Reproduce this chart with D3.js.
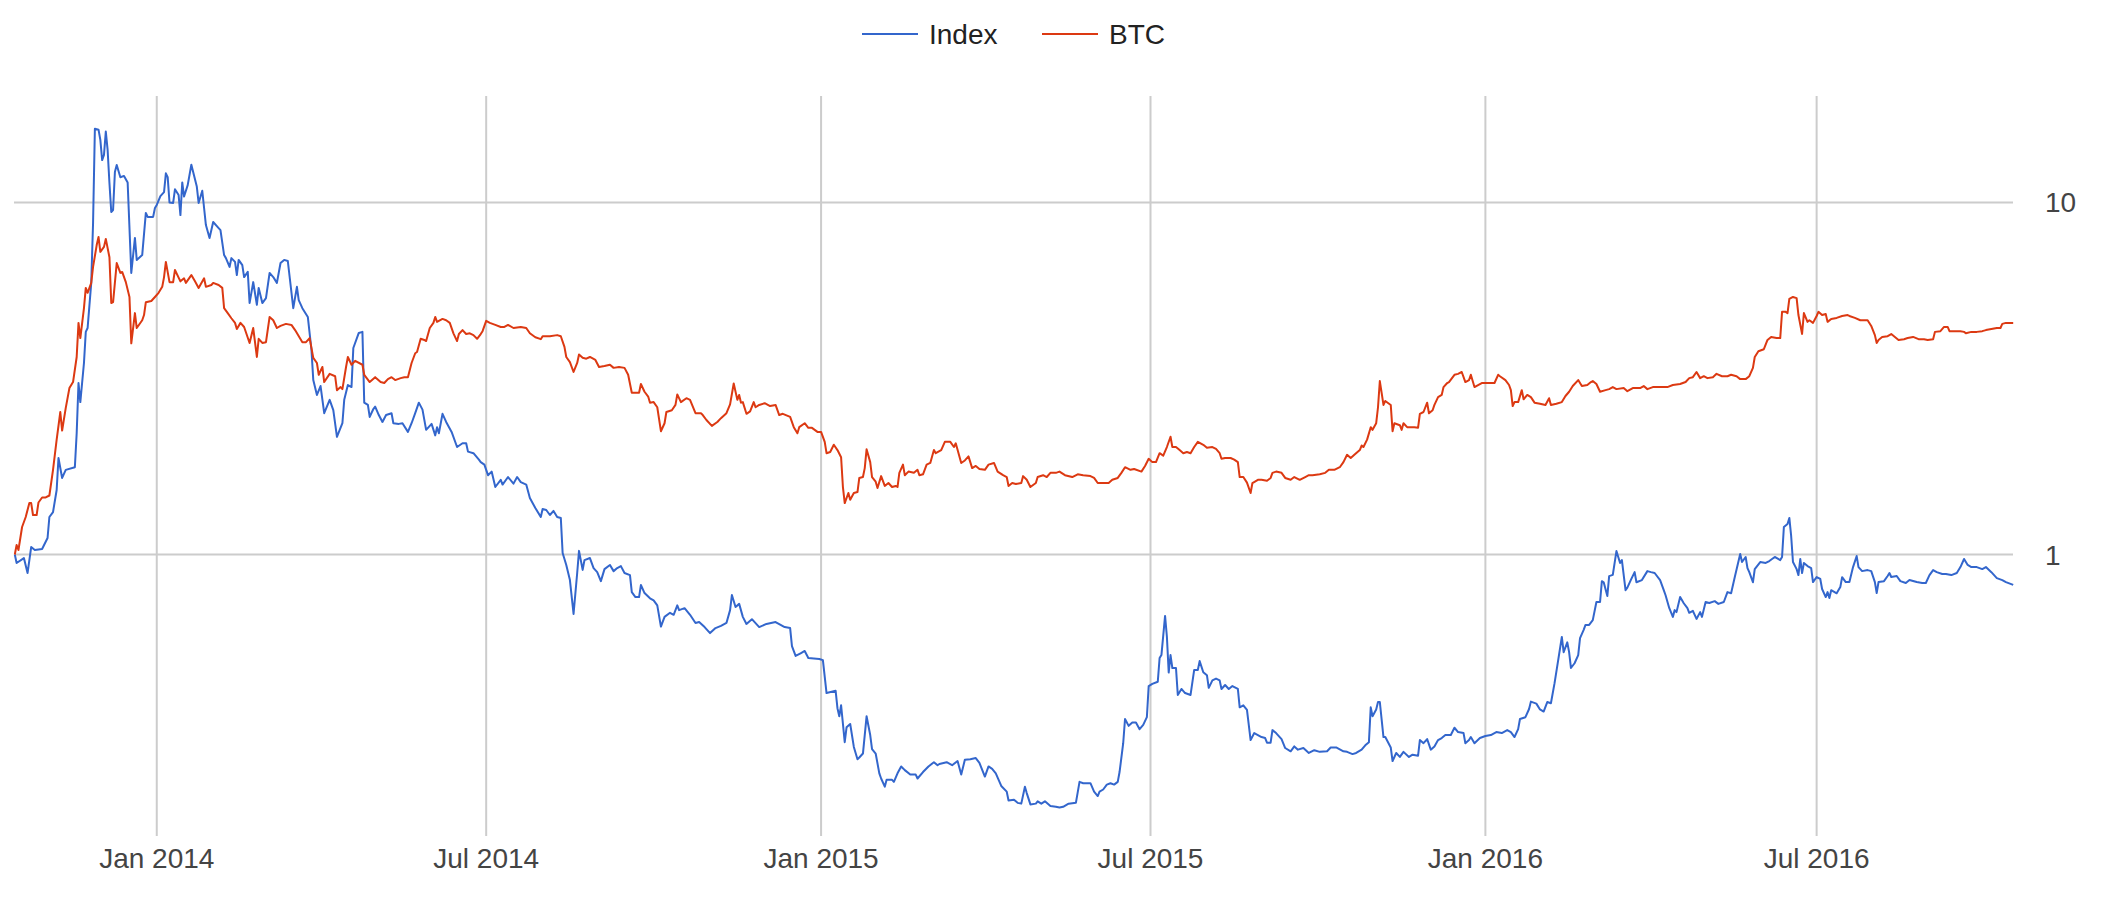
<!DOCTYPE html>
<html>
<head>
<meta charset="utf-8">
<script src="https://cdn.jsdelivr.net/npm/d3@7"></script>
<style>
  body { margin: 0; background: #fff; }
  svg { display: block; font-family: "Liberation Sans", Arial, sans-serif; }
</style>
</head>
<body>
<div id="chart"></div>
<script>
// days are counted from 1 Jan 2014, values are relative to the start (log scale)
const seriesNames = ["Index", "BTC"];
const seriesColors = ["#3366cc", "#dc3912"];

const indexSeries = [[-78,1.00],[-77,0.946],[-73,0.977],[-71,0.886],[-69,1.05],[-67,1.03],[-63,1.037],[-60,1.114],[-59,1.278],[-57,1.32],[-55,1.525],[-54,1.88],[-52,1.65],[-50,1.739],[-45,1.77],[-44,2.21],[-43,3.07],[-42,2.71],[-40,3.5],[-39,4.29],[-38,4.4],[-36,5.91],[-35,8.75],[-34,16.2],[-32,16.1],[-31,15.06],[-30,13.2],[-29,13.65],[-28,15.9],[-27,14.1],[-26,11.36],[-25,9.4],[-24,9.52],[-23,12.2],[-22,12.78],[-20,11.8],[-18,11.9],[-16,11.4],[-14,6.31],[-12,7.93],[-11,6.87],[-8,7.09],[-6,9.34],[-5,9.1],[-2,9.1],[-1,9.65],[0,9.84],[2,10.43],[4,10.7],[5,12.1],[6,11.8],[7,10.0],[9,9.97],[10,10.9],[12,10.5],[13,9.21],[14,11.4],[15,10.4],[17,11.2],[19,12.8],[22,11.1],[23,9.97],[25,10.8],[27,8.63],[29,7.93],[31,8.8],[34,8.46],[35,8.35],[37,7.09],[38,6.95],[40,6.56],[41,6.95],[43,6.78],[44,6.22],[45,6.87],[47,6.64],[48,6.14],[50,6.35],[51,5.18],[53,5.94],[55,5.12],[56,5.72],[58,5.18],[60,5.35],[62,6.31],[64,6.14],[66,5.91],[68,6.73],[70,6.87],[72,6.82],[75,5.01],[77,5.76],[78,5.28],[80,5.01],[83,4.73],[85,3.81],[86,3.13],[88,2.84],[90,3.01],[92,2.52],[95,2.75],[97,2.57],[99,2.16],[102,2.36],[103,2.75],[105,3.03],[107,2.99],[108,3.86],[111,4.26],[113,4.29],[114,2.7],[116,2.66],[117,2.46],[119,2.59],[120,2.63],[122,2.49],[124,2.38],[126,2.49],[129,2.52],[130,2.36],[133,2.35],[135,2.36],[138,2.23],[140,2.36],[142,2.52],[144,2.7],[146,2.58],[148,2.26],[151,2.35],[153,2.18],[154,2.3],[155,2.21],[157,2.51],[159,2.38],[162,2.23],[165,2.02],[168,2.07],[170,2.07],[171,1.96],[174,1.94],[177,1.86],[178,1.83],[180,1.8],[182,1.68],[184,1.72],[186,1.555],[189,1.63],[190,1.58],[193,1.66],[196,1.59],[198,1.66],[200,1.605],[203,1.58],[205,1.447],[208,1.356],[211,1.278],[212,1.347],[214,1.338],[216,1.295],[218,1.33],[220,1.278],[222,1.27],[223,1.01],[225,0.934],[227,0.846],[229,0.678],[231,0.886],[232,1.024],[234,0.904],[235,0.964],[238,0.977],[240,0.915],[242,0.891],[244,0.84],[246,0.909],[249,0.934],[251,0.897],[253,0.915],[255,0.927],[257,0.886],[260,0.874],[261,0.782],[263,0.757],[265,0.757],[266,0.819],[268,0.777],[271,0.751],[273,0.741],[275,0.717],[277,0.624],[279,0.665],[282,0.683],[284,0.674],[286,0.717],[287,0.695],[290,0.704],[293,0.674],[296,0.639],[298,0.643],[301,0.622],[304,0.598],[307,0.618],[310,0.627],[313,0.639],[315,0.695],[316,0.767],[318,0.709],[320,0.724],[322,0.665],[324,0.635],[327,0.655],[331,0.622],[335,0.635],[340,0.643],[345,0.622],[348,0.618],[349,0.549],[351,0.515],[354,0.525],[356,0.532],[358,0.508],[364,0.505],[366,0.501],[368,0.404],[373,0.41],[374,0.366],[375,0.347],[376,0.373],[378,0.293],[379,0.323],[381,0.33],[383,0.284],[385,0.262],[386,0.265],[388,0.272],[390,0.347],[392,0.307],[393,0.28],[395,0.272],[397,0.239],[398,0.231],[400,0.219],[401,0.229],[404,0.229],[405,0.226],[407,0.239],[409,0.25],[411,0.244],[414,0.237],[417,0.237],[418,0.231],[421,0.241],[424,0.25],[427,0.257],[429,0.252],[430,0.254],[434,0.257],[437,0.252],[440,0.259],[442,0.237],[444,0.261],[447,0.262],[450,0.264],[452,0.256],[455,0.234],[457,0.25],[459,0.246],[461,0.239],[464,0.22],[467,0.212],[468,0.2],[471,0.201],[473,0.197],[475,0.196],[477,0.219],[478,0.21],[480,0.195],[483,0.196],[484,0.199],[486,0.196],[488,0.199],[491,0.193],[494,0.192],[496,0.191],[498,0.192],[501,0.196],[505,0.197],[507,0.226],[509,0.224],[513,0.224],[515,0.212],[517,0.206],[518,0.212],[520,0.215],[522,0.222],[524,0.224],[526,0.222],[528,0.226],[529,0.241],[531,0.291],[532,0.341],[534,0.326],[536,0.333],[538,0.333],[540,0.319],[542,0.328],[544,0.345],[545,0.423],[547,0.429],[550,0.435],[551,0.508],[552,0.518],[554,0.669],[555,0.585],[556,0.462],[557,0.518],[558,0.476],[560,0.476],[561,0.399],[563,0.415],[565,0.404],[568,0.399],[570,0.47],[572,0.47],[573,0.498],[575,0.463],[577,0.454],[578,0.418],[580,0.439],[582,0.444],[584,0.439],[585,0.415],[587,0.426],[589,0.415],[591,0.423],[594,0.415],[595,0.368],[597,0.373],[599,0.362],[601,0.297],[603,0.311],[605,0.307],[607,0.303],[609,0.301],[610,0.292],[612,0.292],[613,0.317],[615,0.311],[618,0.299],[620,0.282],[623,0.276],[625,0.285],[627,0.279],[630,0.282],[633,0.273],[636,0.278],[639,0.275],[643,0.276],[645,0.283],[648,0.283],[652,0.276],[654,0.275],[657,0.271],[659,0.273],[662,0.279],[664,0.287],[666,0.293],[667,0.368],[668,0.347],[670,0.363],[671,0.381],[672,0.381],[674,0.303],[675,0.303],[678,0.283],[679,0.259],[681,0.273],[683,0.266],[685,0.275],[688,0.266],[690,0.27],[693,0.268],[694,0.297],[696,0.291],[698,0.299],[700,0.279],[702,0.285],[704,0.297],[706,0.301],[708,0.307],[711,0.307],[713,0.322],[715,0.313],[718,0.311],[719,0.291],[721,0.297],[722,0.303],[724,0.291],[727,0.301],[730,0.305],[733,0.307],[736,0.313],[739,0.311],[742,0.317],[744,0.313],[746,0.303],[748,0.319],[749,0.341],[752,0.345],[754,0.364],[755,0.382],[758,0.377],[760,0.363],[762,0.358],[764,0.381],[766,0.378],[768,0.431],[770,0.501],[772,0.583],[773,0.528],[775,0.563],[776,0.528],[777,0.476],[779,0.491],[781,0.518],[782,0.579],[784,0.611],[785,0.631],[787,0.631],[789,0.651],[791,0.733],[793,0.733],[794,0.84],[795,0.834],[797,0.762],[798,0.868],[800,0.875],[802,1.023],[803,0.984],[804,0.946],[805,0.964],[807,0.792],[808,0.805],[810,0.848],[812,0.891],[813,0.834],[816,0.846],[819,0.897],[821,0.891],[823,0.886],[826,0.846],[828,0.792],[829,0.766],[831,0.705],[833,0.665],[834,0.695],[835,0.686],[837,0.757],[839,0.727],[841,0.704],[842,0.683],[844,0.692],[846,0.656],[848,0.686],[849,0.665],[851,0.733],[853,0.728],[856,0.737],[858,0.724],[861,0.733],[863,0.782],[865,0.776],[867,0.862],[870,1.003],[871,0.952],[873,0.984],[874,0.915],[875,0.891],[877,0.834],[878,0.909],[881,0.952],[884,0.946],[886,0.958],[889,0.984],[892,0.964],[893,0.984],[894,1.197],[896,1.221],[897,1.27],[898,1.129],[899,0.952],[901,0.909],[902,0.874],[903,0.971],[904,0.886],[905,0.946],[907,0.927],[909,0.915],[910,0.835],[912,0.863],[914,0.852],[915,0.798],[917,0.757],[918,0.782],[919,0.752],[920,0.792],[923,0.776],[925,0.808],[926,0.862],[928,0.835],[930,0.835],[932,0.921],[934,0.99],[935,0.921],[937,0.897],[940,0.903],[942,0.897],[944,0.835],[945,0.777],[946,0.835],[949,0.84],[951,0.869],[952,0.886],[953,0.863],[956,0.869],[958,0.84],[961,0.83],[963,0.846],[967,0.835],[970,0.83],[972,0.83],[974,0.874],[976,0.903],[978,0.891],[981,0.88],[983,0.88],[986,0.874],[989,0.886],[991,0.921],[993,0.971],[995,0.934],[997,0.921],[1000,0.921],[1003,0.909],[1005,0.921],[1008,0.891],[1011,0.857],[1014,0.846],[1016,0.835],[1020,0.82]];

const btcSeries = [[-78,1.0],[-77,1.064],[-76,1.03],[-74,1.197],[-72,1.278],[-70,1.401],[-69,1.4],[-68,1.295],[-66,1.295],[-65,1.405],[-63,1.452],[-61,1.452],[-59,1.471],[-57,1.739],[-55,2.12],[-53,2.54],[-52,2.25],[-50,2.61],[-48,2.97],[-46,3.09],[-44,3.64],[-43,4.55],[-42,4.12],[-40,5.01],[-39,5.72],[-38,5.54],[-36,5.91],[-35,6.56],[-33,7.57],[-32,7.98],[-31,7.24],[-29,7.48],[-28,7.88],[-26,6.99],[-25,5.18],[-24,5.21],[-22,6.73],[-20,6.31],[-19,6.35],[-17,5.94],[-15,5.39],[-14,3.98],[-12,4.85],[-11,4.4],[-8,4.63],[-7,4.79],[-6,5.21],[-3,5.25],[-1,5.39],[1,5.54],[3,5.76],[4,6.14],[5,6.78],[7,5.94],[9,5.94],[10,6.43],[13,5.97],[15,6.09],[16,5.91],[19,6.22],[21,5.97],[23,5.72],[26,6.09],[27,5.76],[30,5.83],[31,5.91],[34,5.83],[36,5.72],[37,5.01],[39,4.85],[41,4.69],[43,4.55],[44,4.37],[46,4.55],[48,4.43],[51,3.99],[53,4.4],[55,3.64],[56,4.1],[58,3.99],[60,4.01],[62,4.73],[64,4.63],[66,4.4],[68,4.46],[71,4.52],[74,4.49],[76,4.34],[80,4.01],[82,4.01],[84,4.12],[86,3.62],[88,3.5],[89,3.24],[91,3.41],[92,3.09],[95,3.26],[98,3.21],[99,2.93],[101,2.99],[102,2.95],[104,3.41],[105,3.64],[107,3.46],[109,3.55],[113,3.46],[114,3.24],[117,3.09],[120,3.19],[123,3.09],[125,3.07],[127,3.15],[129,3.19],[131,3.13],[134,3.17],[136,3.19],[138,3.19],[140,3.5],[142,3.73],[143,3.76],[145,4.1],[147,4.07],[148,4.04],[150,4.4],[152,4.55],[153,4.73],[154,4.58],[157,4.67],[159,4.63],[161,4.55],[163,4.25],[165,4.04],[166,4.23],[168,4.34],[170,4.23],[172,4.25],[174,4.2],[176,4.1],[178,4.23],[179,4.31],[181,4.61],[183,4.55],[186,4.49],[189,4.43],[191,4.43],[193,4.49],[196,4.4],[200,4.43],[203,4.4],[205,4.25],[208,4.14],[211,4.09],[212,4.17],[216,4.17],[220,4.2],[222,4.17],[224,3.89],[225,3.64],[227,3.52],[229,3.3],[231,3.5],[232,3.7],[234,3.62],[236,3.6],[238,3.64],[241,3.57],[243,3.41],[246,3.43],[249,3.46],[251,3.39],[254,3.41],[257,3.39],[259,3.24],[261,2.88],[263,2.88],[265,2.88],[266,3.05],[268,2.9],[270,2.81],[271,2.7],[273,2.71],[275,2.62],[277,2.24],[279,2.36],[280,2.54],[283,2.57],[285,2.66],[286,2.85],[288,2.71],[291,2.78],[293,2.75],[296,2.52],[299,2.52],[300,2.49],[302,2.41],[305,2.32],[308,2.38],[310,2.44],[313,2.52],[315,2.67],[317,3.06],[319,2.75],[320,2.84],[321,2.7],[322,2.71],[324,2.51],[326,2.55],[328,2.71],[329,2.62],[331,2.66],[334,2.69],[337,2.64],[340,2.66],[342,2.49],[344,2.51],[348,2.46],[350,2.3],[352,2.21],[353,2.3],[356,2.36],[358,2.29],[360,2.29],[363,2.23],[365,2.23],[367,2.09],[368,1.94],[370,1.955],[372,2.05],[374,1.98],[376,1.89],[377,1.555],[378,1.4],[380,1.495],[381,1.43],[383,1.495],[385,1.505],[386,1.65],[388,1.66],[389,1.76],[390,1.99],[392,1.83],[393,1.66],[395,1.61],[396,1.545],[398,1.67],[400,1.566],[402,1.596],[404,1.555],[406,1.566],[407,1.555],[408,1.706],[410,1.8],[411,1.68],[413,1.72],[416,1.706],[418,1.74],[419,1.68],[421,1.69],[423,1.8],[425,1.82],[427,1.98],[428,1.94],[431,1.98],[433,2.09],[436,2.09],[438,2.02],[439,2.07],[442,1.82],[444,1.85],[446,1.9],[448,1.76],[450,1.785],[452,1.75],[455,1.74],[457,1.8],[460,1.82],[462,1.72],[465,1.68],[467,1.66],[468,1.566],[470,1.596],[472,1.586],[475,1.596],[476,1.67],[478,1.63],[480,1.555],[483,1.596],[484,1.66],[487,1.68],[489,1.66],[491,1.706],[494,1.706],[496,1.72],[499,1.68],[503,1.66],[506,1.69],[509,1.68],[513,1.67],[515,1.65],[517,1.596],[520,1.596],[523,1.596],[525,1.63],[528,1.65],[530,1.706],[532,1.77],[535,1.74],[537,1.75],[541,1.72],[543,1.785],[545,1.87],[547,1.83],[549,1.83],[551,1.94],[553,1.91],[555,2.02],[557,2.16],[558,2.02],[560,2.02],[562,1.98],[564,1.94],[566,1.955],[568,1.94],[570,2.02],[572,2.09],[575,2.05],[577,2.01],[580,2.02],[582,1.995],[584,1.94],[585,1.87],[587,1.88],[590,1.88],[592,1.86],[594,1.83],[595,1.66],[597,1.66],[599,1.6],[601,1.495],[602,1.596],[605,1.63],[607,1.63],[610,1.62],[612,1.65],[613,1.706],[615,1.72],[618,1.706],[620,1.65],[623,1.63],[625,1.66],[628,1.63],[631,1.66],[633,1.68],[635,1.68],[639,1.69],[642,1.706],[644,1.74],[647,1.74],[650,1.77],[652,1.83],[654,1.92],[656,1.88],[658,1.92],[661,1.98],[662,2.04],[663,2.02],[665,2.12],[667,2.3],[668,2.26],[670,2.36],[671,2.62],[672,3.11],[673,2.88],[674,2.66],[675,2.73],[678,2.66],[679,2.24],[680,2.36],[683,2.33],[684,2.26],[685,2.36],[687,2.3],[689,2.3],[691,2.3],[693,2.29],[694,2.51],[696,2.54],[698,2.7],[699,2.52],[701,2.57],[702,2.66],[704,2.8],[706,2.84],[707,2.99],[709,3.07],[710,3.09],[713,3.24],[715,3.26],[717,3.3],[719,3.09],[721,3.13],[722,3.24],[724,2.99],[726,3.03],[728,3.07],[730,3.07],[733,3.07],[735,3.07],[737,3.24],[738,3.21],[741,3.13],[743,3.03],[744,2.93],[745,2.64],[746,2.71],[748,2.71],[750,2.93],[751,2.76],[753,2.84],[755,2.8],[757,2.7],[760,2.68],[763,2.66],[765,2.78],[766,2.66],[769,2.68],[772,2.71],[774,2.82],[776,2.9],[778,3.01],[781,3.13],[783,3.01],[786,3.03],[788,3.09],[789,3.11],[791,3.05],[793,2.9],[796,2.93],[798,2.95],[800,2.99],[802,2.95],[806,2.97],[808,2.91],[811,2.97],[815,2.97],[817,3.01],[819,2.95],[822,2.99],[826,2.99],[830,2.99],[833,3.03],[837,3.05],[840,3.09],[842,3.17],[844,3.19],[846,3.3],[848,3.17],[850,3.21],[852,3.17],[855,3.19],[857,3.26],[860,3.21],[863,3.21],[865,3.24],[868,3.21],[870,3.15],[873,3.15],[875,3.21],[877,3.39],[878,3.64],[880,3.78],[883,3.83],[885,4.07],[887,4.15],[890,4.12],[892,4.12],[893,4.89],[895,4.89],[896,4.85],[897,5.32],[899,5.39],[901,5.35],[902,4.79],[904,4.23],[905,4.85],[907,4.58],[908,4.63],[910,4.55],[912,4.76],[913,4.89],[915,4.79],[917,4.82],[918,4.58],[920,4.67],[923,4.7],[926,4.76],[929,4.79],[930,4.76],[933,4.7],[936,4.63],[940,4.63],[942,4.46],[944,4.2],[945,3.99],[946,4.07],[948,4.15],[951,4.17],[953,4.23],[955,4.15],[957,4.07],[960,4.09],[962,4.12],[965,4.15],[968,4.09],[971,4.09],[973,4.07],[976,4.09],[977,4.29],[980,4.31],[982,4.43],[984,4.43],[985,4.31],[988,4.31],[991,4.31],[993,4.29],[994,4.25],[997,4.29],[1000,4.29],[1003,4.31],[1005,4.34],[1008,4.37],[1011,4.4],[1013,4.4],[1014,4.52],[1016,4.55],[1020,4.55]];

const tickDays = [0, 181, 365, 546, 730, 912];
const tickLabels = ["Jan 2014", "Jul 2014", "Jan 2015", "Jul 2015", "Jan 2016", "Jul 2016"];
const yTicks = [1, 10];
const yTickLabels = ["1", "10"];

const width = 2102;
const height = 900;

const dayToDate = d => new Date(Date.UTC(2014, 0, 1) + d * 864e5);

const x = d3.scaleUtc()
    .domain([dayToDate(-78), dayToDate(1020)])
    .range([14.8, 2013.2]);

const y = d3.scaleLog()
    .domain([0.1586, 20.07])
    .range([836, 96]);

const svg = d3.select("#chart")
  .append("svg")
    .attr("width", width)
    .attr("height", height)
    .attr("viewBox", [0, 0, width, height]);

// gridlines
svg.append("g")
  .selectAll("line")
  .data(tickDays)
  .join("line")
    .attr("x1", d => x(dayToDate(d)))
    .attr("x2", d => x(dayToDate(d)))
    .attr("y1", 96)
    .attr("y2", 836)
    .attr("stroke", "#cccccc")
    .attr("stroke-width", 2);

svg.append("g")
  .selectAll("line")
  .data(yTicks)
  .join("line")
    .attr("x1", 14)
    .attr("x2", 2013)
    .attr("y1", d => y(d))
    .attr("y2", d => y(d))
    .attr("stroke", "#cccccc")
    .attr("stroke-width", 2);

// axis labels
svg.append("g")
  .selectAll("text")
  .data(tickDays)
  .join("text")
    .attr("x", d => x(dayToDate(d)))
    .attr("y", 868)
    .attr("text-anchor", "middle")
    .attr("font-size", 28)
    .attr("fill", "#444")
    .text((d, i) => tickLabels[i]);

svg.append("g")
  .selectAll("text")
  .data(yTicks)
  .join("text")
    .attr("x", 2045)
    .attr("y", d => y(d) + 10)
    .attr("font-size", 28)
    .attr("fill", "#444")
    .text((d, i) => yTickLabels[i]);

// series lines
const line = d3.line()
    .x(d => x(dayToDate(d[0])))
    .y(d => y(d[1]));

const series = [indexSeries, btcSeries];

svg.append("g")
    .attr("fill", "none")
    .attr("stroke-width", 2)
    .attr("stroke-linejoin", "round")
  .selectAll("path")
  .data(series)
  .join("path")
    .attr("stroke", (d, i) => seriesColors[i])
    .attr("d", line);

// legend
const legendX = [862, 1042];
const legend = svg.append("g")
  .selectAll("g")
  .data(seriesNames)
  .join("g")
    .attr("transform", (d, i) => `translate(${legendX[i]},34)`);

legend.append("line")
    .attr("x1", 0)
    .attr("x2", 56)
    .attr("stroke", (d, i) => seriesColors[i])
    .attr("stroke-width", 2);

legend.append("text")
    .attr("x", 67)
    .attr("y", 10)
    .attr("font-size", 28)
    .attr("fill", "#222")
    .text(d => d);
</script>
</body>
</html>
